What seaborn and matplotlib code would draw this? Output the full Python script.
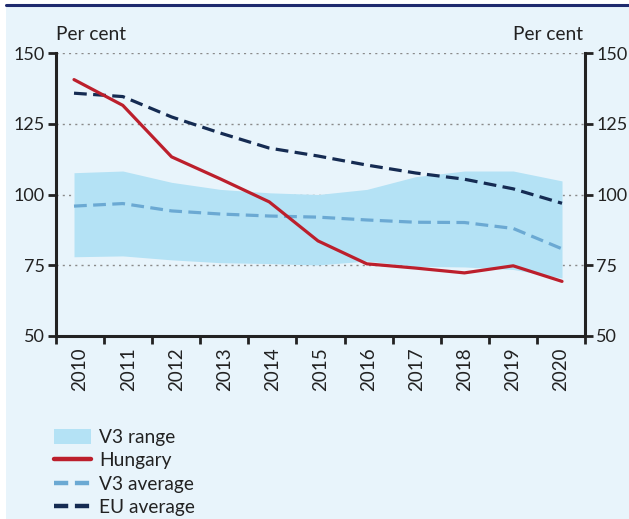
import numpy as np
import pandas as pd
import matplotlib
matplotlib.use("Agg")
import matplotlib.pyplot as plt
from matplotlib.patches import Rectangle
from matplotlib.lines import Line2D
import seaborn as sns

years = ["2010", "2011", "2012", "2013", "2014", "2015",
         "2016", "2017", "2018", "2019", "2020"]
hungary = [140.6, 131.5, 113.3, 105.5, 97.4, 83.6, 75.5, 74.0, 72.3, 74.8, 69.3]
eu_average = [135.8, 134.6, 127.4, 121.7, 116.4, 113.6, 110.4, 107.6, 105.4, 102.0, 96.9]
v3_average = [95.9, 96.8, 94.2, 93.1, 92.4, 92.0, 91.0, 90.2, 90.1, 88.0, 80.8]
v3_upper = [107.7, 108.3, 104.3, 101.8, 100.6, 100.0, 101.8, 106.3, 108.3, 108.3, 104.8]
v3_lower = [78.0, 78.3, 76.9, 75.9, 75.6, 75.1, 76.5, 74.6, 74.4, 73.5, 70.5]
y_ticks = [50, 75, 100, 125, 150]

sns.set_theme(style="white")
plt.rcParams["font.family"] = ["Lato", "DejaVu Sans"]

BG = "#E8F4FB"
RED = "#BC1F2C"
NAVY = "#152B52"
MID = "#6BA9D3"
BAND = "#B4E2F5"
INK = "#222222"

df = pd.DataFrame({"pos": np.arange(len(years)), "year": years,
                   "Hungary": hungary, "EU average": eu_average,
                   "V3 average": v3_average,
                   "lo": v3_lower, "hi": v3_upper})

fig = plt.figure(figsize=(6.29, 5.19), dpi=100, facecolor="white")
fig.patches.append(Rectangle((6 / 629, 0), 1, 1 - 7 / 519,
                             transform=fig.transFigure, facecolor=BG,
                             edgecolor="none", zorder=-10))
fig.lines.append(Line2D([6 / 629, 1], [1 - 5 / 519, 1 - 5 / 519],
                        transform=fig.transFigure, color="#1E2A6E", lw=2.2,
                        zorder=-9))

ax = fig.add_axes([56 / 629, 1 - 336 / 519, 529 / 629, 283 / 519])
ax.set_facecolor("none")

ax.fill_between(df["pos"], df["lo"], df["hi"], color=BAND, lw=0, zorder=2)
sns.lineplot(data=df, x="pos", y="V3 average", ax=ax, color=MID, lw=2.3,
             zorder=3)
sns.lineplot(data=df, x="pos", y="EU average", ax=ax, color=NAVY, lw=2.3,
             zorder=4)
sns.lineplot(data=df, x="pos", y="Hungary", ax=ax, color=RED, lw=2.3,
             zorder=5)
ax.lines[0].set_dashes([4, 2])
ax.lines[1].set_dashes([4, 2])

xlo, xhi = -0.369, 10.471
ax.set_xlim(xlo, xhi)
ax.set_ylim(50, 150)
bounds = np.linspace(xlo, xhi, len(years) + 1)
centers = (bounds[:-1] + bounds[1:]) / 2
ax.set_xticks(bounds)
ax.set_xticklabels([])
ax.set_xticks(centers, minor=True)
ax.set_xticklabels(years, minor=True, rotation=90, fontsize=13.5, color=INK)
ax.tick_params(axis="x", which="major", direction="out", length=6,
               width=2, color=INK, bottom=True)
ax.tick_params(axis="x", which="minor", length=0, pad=8)
ax.set_yticks(y_ticks)
ax.set_yticklabels([str(v) for v in y_ticks], fontsize=13, color=INK)
ax.tick_params(axis="y", direction="out", length=6, width=2, color=INK,
               left=True, pad=2)
ax.set_xlabel("")
ax.set_ylabel("")
for y in y_ticks[1:]:
    ax.axhline(y, color="#8A8A8A", lw=1, ls=(0, (1.5, 3)), zorder=1)

for side in ["top", "right"]:
    ax.spines[side].set_visible(False)
for side in ["left", "bottom"]:
    ax.spines[side].set_color(INK)
    ax.spines[side].set_linewidth(2.2)

ax2 = ax.twinx()
ax2.set_ylim(50, 150)
ax2.set_yticks(y_ticks)
ax2.set_yticklabels([str(v) for v in y_ticks], fontsize=13, color=INK)
ax2.tick_params(axis="y", direction="out", length=6, width=2, color=INK,
                right=True, pad=2)
for side in ["top", "left", "bottom"]:
    ax2.spines[side].set_visible(False)
ax2.spines["right"].set_color(INK)
ax2.spines["right"].set_linewidth(2.2)

fig.text(56 / 629, 1 - 35 / 519, "Per cent", fontsize=13.8, color=INK,
         ha="left", va="center")
fig.text(583 / 629, 1 - 35 / 519, "Per cent", fontsize=13.8, color=INK,
         ha="right", va="center")

handles = [
    Rectangle((0, 0), 1, 1, facecolor=BAND, edgecolor="none"),
    Line2D([], [], color=RED, lw=3.2),
    Line2D([], [], color=MID, lw=3.2, dashes=[3.2, 1.5]),
    Line2D([], [], color=NAVY, lw=3.2, dashes=[3.2, 1.5]),
]
labels = ["V3 range", "Hungary", "V3 average", "EU average"]
fig.legend(handles, labels, loc="upper left",
           bbox_to_anchor=(54 / 629, 1 - 429 / 519), frameon=False,
           fontsize=13.8, handlelength=1.95, handleheight=0.8,
           handletextpad=0.4, labelspacing=0.33, borderpad=0,
           borderaxespad=0, labelcolor=INK)

fig.savefig("out.png", dpi=100, facecolor="white")
